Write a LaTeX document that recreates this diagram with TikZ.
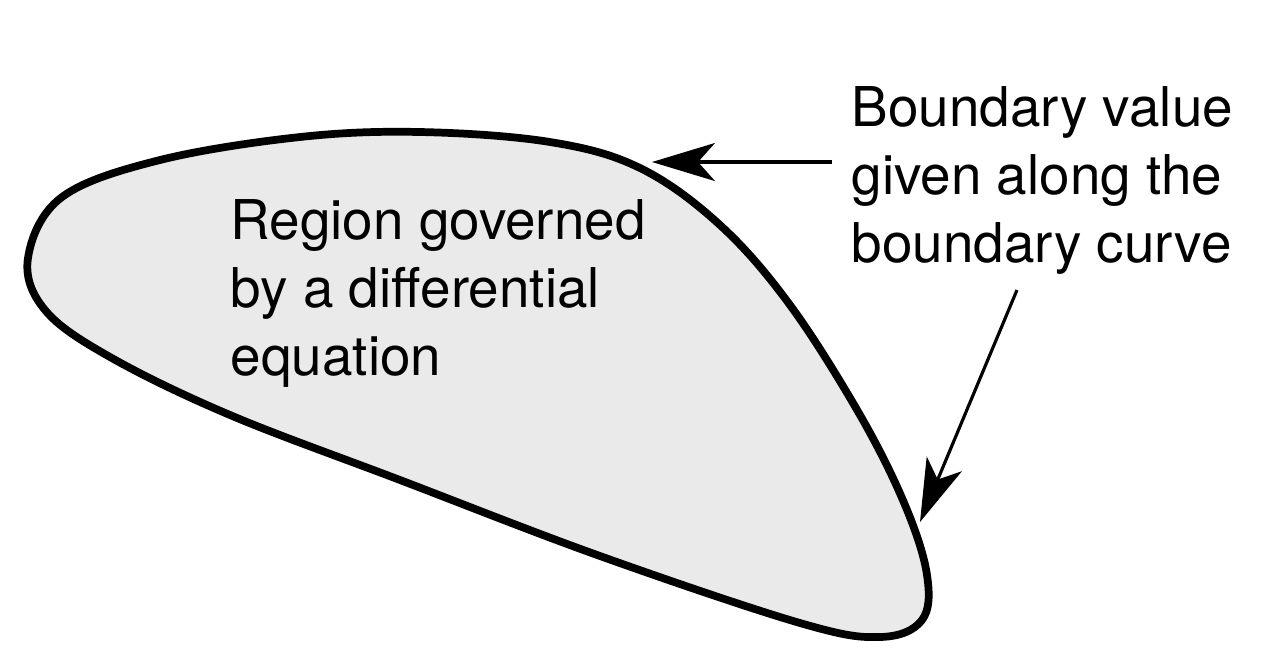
\documentclass[tikz,border=0pt]{standalone}
\usepackage{fontspec}
\setmainfont{TeX Gyre Heros}
\usetikzlibrary{arrows.meta}
\definecolor{regfill}{RGB}{234,234,234}

\begin{document}
\begin{tikzpicture}[x=0.1mm,y=-0.1mm,
  txt/.style={align=left,anchor=base west,inner sep=0pt,
    font=\fontsize{15.6}{19.3}\selectfont},
  pointer/.style={line width=0.9pt,
    -{Stealth[length=17.9pt,width=10.8pt,inset=4.8pt]}}]
  \useasboundingbox (0,0) rectangle (1280,665);
  % region
  \draw[line width=2.2pt,fill=regfill] plot[smooth cycle,tension=0.6] coordinates {
    (28,258) (62,197) (160,160) (300,137) (420,132) (550,142) (640,168)
    (720,225) (790,305) (860,415) (905,505) (927,575) (922,620) (880,637)
    (800,623) (600,556) (400,480) (230,415) (110,357) (45,310)};
  % base anchor sits on the last line
  \node[txt] (region) at (230,375) {Region governed\\by a differential\\equation};
  \node[txt] (bval) at (851,262) {Boundary value\\given along the\\boundary curve};
  % pointers to the curve
  \coordinate (P1) at (832,162);
  \coordinate (Q1) at (652,162);
  \coordinate (P2) at (1017,290);
  \coordinate (Q2) at (920,522);
  \draw[pointer] (P1) -- (Q1);
  \draw[pointer] (P2) -- (Q2);
\end{tikzpicture}
\end{document}
